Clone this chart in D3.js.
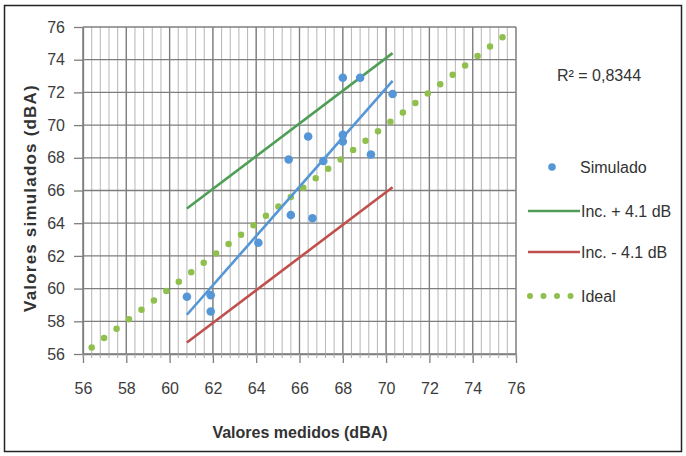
<!DOCTYPE html>
<html lang="es">
<head>
<meta charset="utf-8">
<title>Valores simulados vs medidos</title>
<script src="https://cdnjs.cloudflare.com/ajax/libs/d3/7.8.5/d3.min.js"></script>
<style>
  body { margin: 0; background: #fff; }
  svg { display: block; font-family: "Liberation Sans Narrow", "Liberation Sans", Arial, sans-serif; }
  .tick text { fill: #3c3c3c; font-size: 16px; }
</style>
</head>
<body>
<script>
var medidos   = [60.8, 61.9, 61.9, 64.1, 65.6, 66.6, 65.5, 66.4, 67.1, 68.0, 68.0, 68.0, 68.8, 70.3, 69.3];
var simulados = [59.5, 59.6, 58.6, 62.8, 64.5, 64.3, 67.9, 69.3, 67.8, 69.4, 69.0, 72.9, 72.9, 71.9, 68.2];

// fitted line (ends)
var trendX = [60.8, 70.3];
var trendY = [58.4, 72.7];

// +/- 4.1 dB bands
var incX = [60.8, 70.3];
var incMas = [64.9, 74.4];
var incMenos = [56.7, 66.2];

// ideal 1:1 line
var idealX = [56.4, 75.7];
var idealY = [56.4, 75.7];

var ticks = [56, 58, 60, 62, 64, 66, 68, 70, 72, 74, 76];
var r2Label = "R\u00b2 = 0,8344";
var legendLabels = ["Simulado", "Inc. + 4.1 dB", "Inc. - 4.1 dB", "Ideal"];

var w = 686, h = 456;
var azul = "#5597d6", verde = "#4f9e55", rojo = "#c0504d", oliva = "#8fbf4d";

var svg = d3.select("body").append("svg")
    .attr("width", w)
    .attr("height", h);

// outer frame
svg.append("rect")
    .attr("x", 4.5).attr("y", 5.5)
    .attr("width", 677).attr("height", 446)
    .attr("fill", "#fff")
    .attr("stroke", "#222")
    .attr("stroke-width", 1.5);

var x = d3.scaleLinear().domain([56, 76]).range([83, 516]);
var y = d3.scaleLinear().domain([56, 76]).range([354, 27]);

// minor vertical grid every 0.4
var grid = svg.append("g");
grid.selectAll("line.minor")
    .data(d3.range(0, 51).map(function(i){ return 56 + i * 0.4; }))
    .enter().append("line")
    .attr("class", "minor")
    .attr("x1", function(d){ return x(d); })
    .attr("x2", function(d){ return x(d); })
    .attr("y1", y(76)).attr("y2", y(56))
    .attr("stroke", "#bcbcbc")
    .attr("stroke-width", 1.1);

grid.selectAll("line.vmaj")
    .data(ticks)
    .enter().append("line")
    .attr("class", "vmaj")
    .attr("x1", function(d){ return x(d); })
    .attr("x2", function(d){ return x(d); })
    .attr("y1", y(76)).attr("y2", y(56))
    .attr("stroke", "#7e7e7e")
    .attr("stroke-width", 1.3);

grid.selectAll("line.hmaj")
    .data(ticks)
    .enter().append("line")
    .attr("class", "hmaj")
    .attr("x1", x(56)).attr("x2", x(76))
    .attr("y1", function(d){ return y(d); })
    .attr("y2", function(d){ return y(d); })
    .attr("stroke", "#7e7e7e")
    .attr("stroke-width", 1.3);

// axes
svg.append("g")
    .attr("transform", "translate(0," + y(56) + ")")
    .call(d3.axisBottom(x).tickValues(ticks).tickSize(9).tickSizeOuter(0).tickPadding(20));
svg.append("g")
    .attr("transform", "translate(" + x(56) + ",0)")
    .call(d3.axisLeft(y).tickValues(ticks).tickSize(9).tickSizeOuter(0).tickPadding(9));
svg.selectAll(".domain").attr("stroke", "#7e7e7e").attr("stroke-width", 1.3);
svg.selectAll(".tick line").attr("stroke", "#7e7e7e").attr("stroke-width", 1.3);

// small minor ticks under x axis
svg.append("g").selectAll("line")
    .data(d3.range(0, 51).map(function(i){ return 56 + i * 0.4; }))
    .enter().append("line")
    .attr("x1", function(d){ return x(d); })
    .attr("x2", function(d){ return x(d); })
    .attr("y1", y(56)).attr("y2", y(56) + 4)
    .attr("stroke", "#aaa");

var line = d3.line()
    .x(function(d){ return x(d[0]); })
    .y(function(d){ return y(d[1]); });

// ideal dotted
svg.append("path")
    .datum(d3.zip(idealX, idealY))
    .attr("d", line)
    .attr("fill", "none")
    .attr("stroke", oliva)
    .attr("stroke-width", 6.5)
    .attr("stroke-linecap", "round")
    .attr("stroke-dasharray", "0 15.6");

svg.append("path")
    .datum(d3.zip(incX, incMas))
    .attr("d", line)
    .attr("fill", "none")
    .attr("stroke", verde)
    .attr("stroke-width", 2.6);

svg.append("path")
    .datum(d3.zip(incX, incMenos))
    .attr("d", line)
    .attr("fill", "none")
    .attr("stroke", rojo)
    .attr("stroke-width", 2.6);

svg.append("path")
    .datum(d3.zip(trendX, trendY))
    .attr("d", line)
    .attr("fill", "none")
    .attr("stroke", azul)
    .attr("stroke-width", 2.6);

svg.append("g").selectAll("circle")
    .data(d3.zip(medidos, simulados))
    .enter().append("circle")
    .attr("cx", function(d){ return x(d[0]); })
    .attr("cy", function(d){ return y(d[1]); })
    .attr("r", 4.3)
    .attr("fill", azul);

// axis titles
svg.append("text")
    .attr("x", 300).attr("y", 438)
    .attr("text-anchor", "middle")
    .attr("font-weight", "bold")
    .attr("font-size", 16)
    .attr("fill", "#333")
    .text("Valores medidos (dBA)");

svg.append("text")
    .attr("transform", "translate(36,198) rotate(-90)")
    .attr("text-anchor", "middle")
    .attr("font-weight", "bold")
    .attr("font-size", 17)
    .attr("letter-spacing", 1.2)
    .attr("fill", "#333")
    .text("Valores simulados (dBA)");

// R2
svg.append("text")
    .attr("x", 599).attr("y", 81)
    .attr("text-anchor", "middle")
    .attr("font-size", 16)
    .attr("fill", "#333")
    .text(r2Label);

// legend
var lg = svg.append("g");
var rowsY = [167, 211, 252, 296];
lg.append("circle").attr("cx", 552).attr("cy", rowsY[0]).attr("r", 3.8).attr("fill", azul);
lg.append("line").attr("x1", 528).attr("x2", 580).attr("y1", rowsY[1]).attr("y2", rowsY[1])
    .attr("stroke", verde).attr("stroke-width", 2.6);
lg.append("line").attr("x1", 528).attr("x2", 580).attr("y1", rowsY[2]).attr("y2", rowsY[2])
    .attr("stroke", rojo).attr("stroke-width", 2.6);
lg.append("line").attr("x1", 530).attr("x2", 578).attr("y1", rowsY[3]).attr("y2", rowsY[3])
    .attr("stroke", oliva).attr("stroke-width", 6).attr("stroke-linecap", "round")
    .attr("stroke-dasharray", "0 13.5");
lg.selectAll("text")
    .data(legendLabels)
    .enter().append("text")
    .attr("x", function(d, i){ return i == 0 ? 580 : 581; })
    .attr("y", function(d, i){ return rowsY[i] + 6; })
    .attr("font-size", 16)
    .attr("fill", "#333")
    .text(function(d){ return d; });
</script>
</body>
</html>
